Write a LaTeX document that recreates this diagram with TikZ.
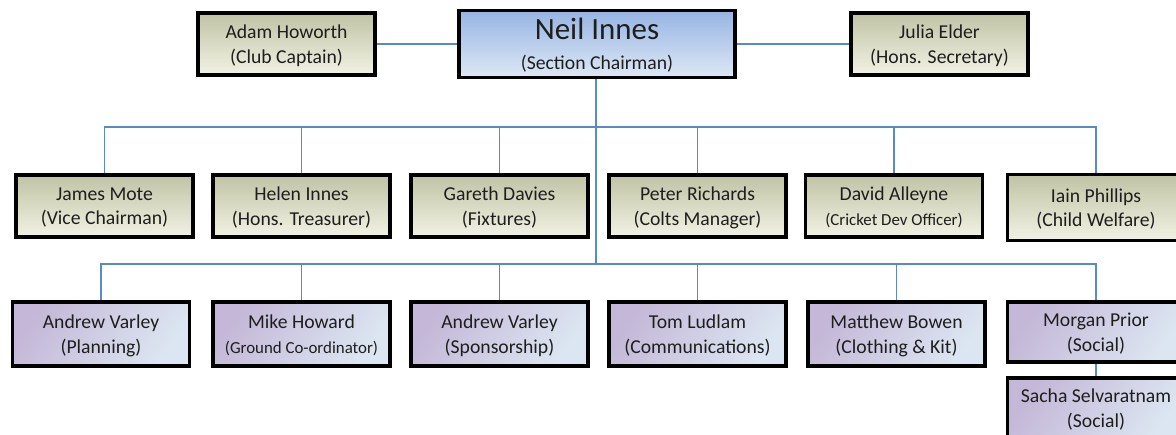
\documentclass[tikz,border=0pt]{standalone}
\usepackage{fontspec}
\setmainfont{Carlito}
\usetikzlibrary{calc,positioning}
\definecolor{linkblue}{RGB}{88,138,198}
\definecolor{oliveTop}{RGB}{192,195,165}
\definecolor{oliveBot}{RGB}{242,242,228}
\definecolor{chairTop}{RGB}{150,180,226}
\definecolor{chairBot}{RGB}{222,232,246}
\definecolor{lilacA}{RGB}{196,183,215}
\definecolor{lilacB}{RGB}{240,222,226}
\definecolor{lilacC}{RGB}{220,230,242}
\definecolor{inkText}{RGB}{30,30,30}
\tikzset{
  box/.style={draw=black,line width=2.4pt,align=center,text=inkText,inner sep=0pt,
    minimum width=4.43cm,minimum height=1.55cm,text depth=0pt,font=\fontsize{14}{17.5}\selectfont},
  officer/.style={box,top color=oliveTop,bottom color=oliveBot},
  chair/.style={box,top color=chairTop,bottom color=chairBot,minimum width=6.9cm,minimum height=1.68cm},
  helper/.style={box,left color=lilacA,middle color=lilacB,right color=lilacC,shading angle=55,minimum height=1.6cm},
  link/.style={draw=linkblue,line width=1.1pt}
}
\begin{document}
\begin{tikzpicture}[x=0.025cm,y=-0.025cm]
  \useasboundingbox (0,0) rectangle (1176,434);
  \clip (0,0) rectangle (1176,434);

  \node[chair] (neil) at (597,44) {{\fontsize{22}{24}\selectfont Neil Innes}\\[4pt](Section Chairman)};
  \node[officer] (adam) at (286.5,44) {Adam Howorth\\(Club Captain)};
  \node[officer] (julia) at (939.5,44) {Julia Elder\\(Hons. Secretary)};

  \node[officer] (james) at (104.5,206) {James Mote\\(Vice Chairman)};
  \node[officer] (helen) at (301.5,206) {Helen Innes\\(Hons. Treasurer)};
  \node[officer] (gareth) at (499.5,206) {Gareth Davies\\(Fixtures)};
  \node[officer] (peter) at (697.5,206) {Peter Richards\\(Colts Manager)};
  \node[officer] (david) at (894,206) {David Alleyne\\{\fontsize{12}{13}\selectfont(Cricket Dev Officer)}};
  \node[officer,minimum height=1.65cm] (iain) at (1096,207.5) {Iain Phillips\\(Child Welfare)};

  \node[helper] (varley) at (101,334) {Andrew Varley\\(Planning)};
  \node[helper] (mike) at (301.5,334) {Mike Howard\\{\fontsize{12}{13}\selectfont(Ground Co-ordinator)}};
  \node[helper] (sponsor) at (499.5,334) {Andrew Varley\\(Sponsorship)};
  \node[helper] (tom) at (697.5,334) {Tom Ludlam\\(Communications)};
  \node[helper] (matthew) at (896.5,334) {Matthew Bowen\\(Clothing \& Kit)};
  \node[helper,minimum height=1.5cm] (morgan) at (1096,332) {Morgan Prior\\(Social)};
  \node[helper,minimum height=1.5cm] (sacha) at (1096,408) {Sacha Selvaratnam\\(Social)};

  \coordinate (busA) at (596,127);
  \coordinate (busB) at (596,264);

  \draw[link] (adam) -- (neil);
  \draw[link] (neil) -- (julia);
  \draw[link] (neil.south -| busB) -- (busB);
  \draw[link] (james.north) |- (busA) -| (iain.north);
  \foreach \who in {helen,gareth,peter,david}
    \draw[link] (\who.north) -- (\who.north |- busA);
  \draw[link] (varley.north) |- (busB) -| (morgan.north);
  \foreach \who in {mike,sponsor,tom,matthew}
    \draw[link] (\who.north) -- (\who.north |- busB);
  \draw[link] (morgan) -- (sacha);
\end{tikzpicture}
\end{document}
